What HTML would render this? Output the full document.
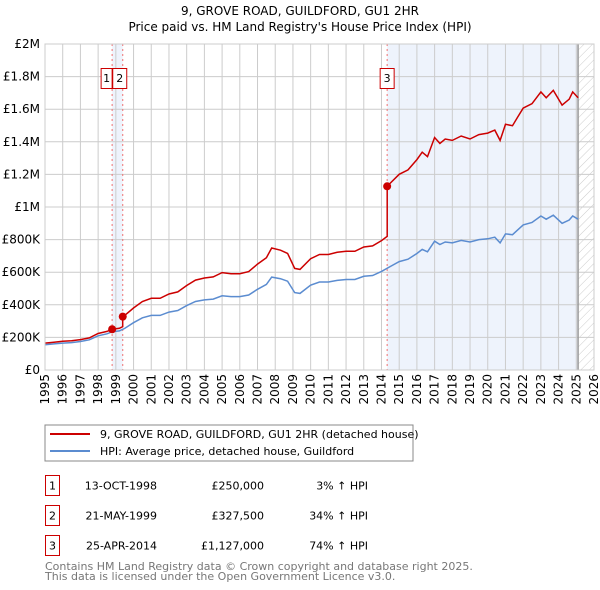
<!DOCTYPE html>
<html><head><meta charset="utf-8"><style>
body{margin:0;background:#fff;font-family:"DejaVu Sans","Liberation Sans",sans-serif;}
svg{display:block}
</style></head><body>
<svg width="600" height="590" xmlns="http://www.w3.org/2000/svg" font-family="DejaVu Sans, Liberation Sans, sans-serif">
<defs><pattern id="hatch" width="6" height="6" patternUnits="userSpaceOnUse" patternTransform="rotate(45)"><line x1="0" y1="0" x2="0" y2="6" stroke="#ccc" stroke-width="1"/></pattern></defs>
<text x="300" y="15" text-anchor="middle" font-size="12">9, GROVE ROAD, GUILDFORD, GU1 2HR</text>
<text x="300" y="31" text-anchor="middle" font-size="12">Price paid vs. HM Land Registry's House Price Index (HPI)</text>
<g id="plot"></g>
<rect x="45" y="425" width="368" height="36" fill="none" stroke="#888"/>
<line x1="50" y1="434" x2="90" y2="434" stroke="#cc0000" stroke-width="2"/>
<text x="100" y="438" font-size="11">9, GROVE ROAD, GUILDFORD, GU1 2HR (detached house)</text>
<line x1="50" y1="451" x2="90" y2="451" stroke="#5b8cd0" stroke-width="2"/>
<text x="100" y="455" font-size="11">HPI: Average price, detached house, Guildford</text>
<g id="table" font-size="11"></g>
<text x="45" y="570" font-size="11" fill="#777">Contains HM Land Registry data © Crown copyright and database right 2025.</text>
<text x="45" y="580" font-size="11" fill="#777">This data is licensed under the Open Government Licence v3.0.</text>
</svg>
<script>
const hpiYears=[1995,1995.5,1996,1996.5,1997,1997.5,1998,1998.5,1998.8,1999.2,1999.5,2000,2000.5,2001,2001.5,2002,2002.5,2003,2003.5,2004,2004.5,2005,2005.5,2006,2006.5,2007,2007.5,2007.8,2008.3,2008.7,2009.1,2009.4,2010,2010.5,2011,2011.5,2012,2012.5,2013,2013.5,2014,2014.5,2015,2015.5,2016,2016.3,2016.6,2017,2017.3,2017.6,2018,2018.5,2019,2019.5,2020,2020.4,2020.7,2021,2021.4,2021.7,2022,2022.5,2023,2023.3,2023.7,2024.2,2024.6,2024.8,2025.1];
const hpiValues=[155,160,165,168,175,185,210,222,235,240,255,290,320,335,335,355,365,395,420,430,435,455,450,450,460,495,525,570,560,545,475,470,520,540,540,550,555,555,575,580,605,635,665,680,715,740,725,790,770,785,780,795,785,800,805,815,780,835,830,860,890,905,945,925,950,900,920,945,925];
const saleYears=[1998.79,1999.39,2014.32];
const salePrices=[250,327.5,1127];
const saleLabels=['1','2','3'];
const saleDates=['13-OCT-1998','21-MAY-1999','25-APR-2014'];
const salePriceText=['£250,000','£327,500','£1,127,000'];
const salePct=['3% ↑ HPI','34% ↑ HPI','74% ↑ HPI'];
const yTicks=[0,200,400,600,800,1000,1200,1400,1600,1800,2000];
const yTickLabels=['£0','£200K','£400K','£600K','£800K','£1M','£1.2M','£1.4M','£1.6M','£1.8M','£2M'];
const xTicks=[1995,1996,1997,1998,1999,2000,2001,2002,2003,2004,2005,2006,2007,2008,2009,2010,2011,2012,2013,2014,2015,2016,2017,2018,2019,2020,2021,2022,2023,2024,2025,2026];

const NS='http://www.w3.org/2000/svg';
const X0=45,X1=594,Y0=370,Y1=44;
const xs=y=>X0+(y-1995)/(2026-1995)*(X1-X0);
const ys=v=>Y0-v/2000*(Y0-Y1);
const plot=document.getElementById('plot');
function mk(tag,attrs,parent){const e=document.createElementNS(NS,tag);for(const k in attrs)e.setAttribute(k,attrs[k]);(parent||plot).appendChild(e);return e;}
function hpiAt(t){if(t<=hpiYears[0])return hpiValues[0];for(let i=1;i<hpiYears.length;i++){if(t<=hpiYears[i]){const f=(t-hpiYears[i-1])/(hpiYears[i]-hpiYears[i-1]);return hpiValues[i-1]+f*(hpiValues[i]-hpiValues[i-1]);}}return hpiValues[hpiValues.length-1];}
const endYear=hpiYears[hpiYears.length-1];
let r=mk('rect',{x:xs(saleYears[0]),y:Y1,width:xs(saleYears[1])-xs(saleYears[0]),height:Y0-Y1,fill:'#eef3fc'});


r=mk('rect',{x:xs(saleYears[2]),y:Y1,width:xs(endYear)-xs(saleYears[2]),height:Y0-Y1,fill:'#eef3fc'});


r=mk('rect',{x:xs(endYear),y:Y1,width:X1-xs(endYear),height:Y0-Y1,fill:'url(#hatch)'});


yTicks.forEach((v,i)=>{
 const l=mk('line',{x1:X0,x2:X1,y1:ys(v),y2:ys(v),stroke:'#ccc'});
 
 
 const t=mk('text',{x:X0-5,y:ys(v)+4,'text-anchor':'end','font-size':'12'});
 t.textContent=yTickLabels[i];
 
 
});
xTicks.forEach(y=>{
 const l=mk('line',{x1:xs(y),x2:xs(y),y1:Y1,y2:Y0,stroke:'#ccc'});
 
 
 const t=mk('text',{x:0,y:0,'text-anchor':'end','font-size':'12',transform:`translate(${xs(y)+4},${Y0+4}) rotate(-90)`});
 t.textContent=y;
 
 
});
let el=mk('line',{x1:xs(endYear),x2:xs(endYear),y1:Y1,y2:Y0,stroke:'#999','stroke-width':1.5});


saleYears.forEach((s,i)=>{
 const l=mk('line',{x1:xs(s),x2:xs(s),y1:Y1,y2:Y0,stroke:'#f07070','stroke-dasharray':'2,3'});
 
 
});
let d='';hpiYears.forEach((y,i)=>{d+=(i?'L':'M')+xs(y).toFixed(1)+','+ys(hpiValues[i]).toFixed(1);});
el=mk('path',{d:d,fill:'none',stroke:'#5b8cd0','stroke-width':1.5});


const pts=[];
const firstRatio=salePrices[0]/hpiAt(saleYears[0]);
hpiYears.forEach((y,i)=>{if(y<saleYears[0])pts.push([y,hpiValues[i]*firstRatio]);});
saleYears.forEach((s,k)=>{
 const ratio=salePrices[k]/hpiAt(s);
 const next=k+1<saleYears.length?saleYears[k+1]:endYear+0.01;
 pts.push([s,salePrices[k]]);
 hpiYears.forEach((y,i)=>{if(y>s&&y<next)pts.push([y,hpiValues[i]*ratio]);});
 if(k+1<saleYears.length)pts.push([next,hpiAt(next)*ratio]);
});
d='';pts.forEach((p,i)=>{d+=(i?'L':'M')+xs(p[0]).toFixed(1)+','+ys(p[1]).toFixed(1);});
el=mk('path',{d:d,fill:'none',stroke:'#cc0000','stroke-width':1.5});


saleYears.forEach((s,i)=>{
 const c=mk('circle',{cx:xs(s),cy:ys(salePrices[i]),r:4,fill:'#cc0000'});
 
 
});
saleYears.forEach((s,i)=>{
 const g=mk('g',{});
 
 
 let bx=xs(s)-7,bw=14; if(i===0){bx=xs(s)-11;bw=11;} if(i===1){bx=xs(s)-10;bw=14;}
 mk('rect',{x:bx,y:68.5,width:bw,height:20,fill:'#fff',stroke:'#cc0000'},g);
 const t=mk('text',{x:bx+bw/2,y:82,'text-anchor':'middle','font-size':'11'},g);t.textContent=saleLabels[i];
});
mk('rect',{x:X0,y:Y1,width:X1-X0,height:Y0-Y1,fill:'none',stroke:'#ccc'});
const tb=document.getElementById('table');
saleLabels.forEach((lab,i)=>{
 const top=475.5+i*30;
 const g=mk('g',{},tb);
 
 
 mk('rect',{x:45.5,y:top,width:14,height:20,fill:'none',stroke:'#cc0000'},g);
 const by=top+14;
 let t=mk('text',{x:52.5,y:by,'text-anchor':'middle'},g);t.textContent=lab;
 t=mk('text',{x:157,y:by,'text-anchor':'end'},g);t.textContent=saleDates[i];
 t=mk('text',{x:264,y:by,'text-anchor':'end'},g);t.textContent=salePriceText[i];
 t=mk('text',{x:368,y:by,'text-anchor':'end'},g);t.textContent=salePct[i];
});
</script>
</body></html>
